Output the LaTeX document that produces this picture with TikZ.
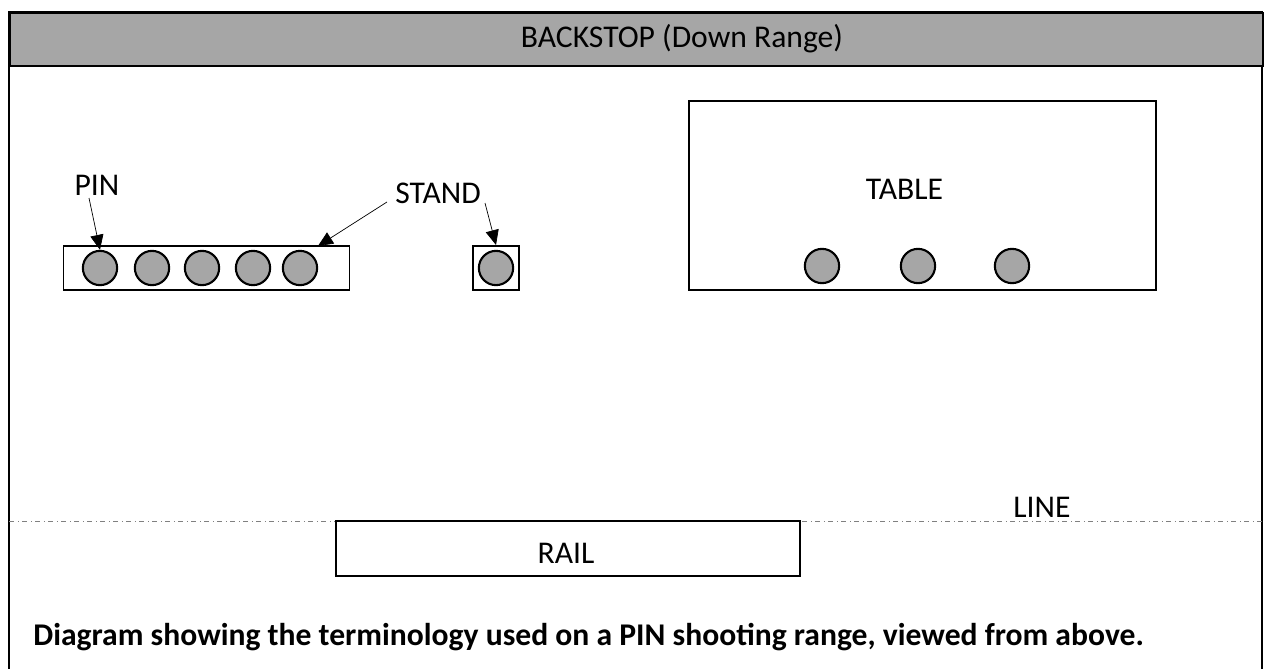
\documentclass[tikz,border=0pt]{standalone}
\usepackage{fontspec}
\setmainfont{Carlito}
\usetikzlibrary{arrows.meta,positioning}
\definecolor{pingray}{HTML}{A6A6A6}
\tikzstyle{box}=[rectangle,draw,line width=1.1pt,inner sep=0pt]
\tikzstyle{pinball}=[circle,draw,fill=pingray,line width=1.2pt,minimum size=19.5pt,inner sep=0pt]
\tikzstyle{lbl}=[font=\fontsize{18}{21}\selectfont,inner sep=0pt,anchor=base]
\tikzstyle{pointer}=[-{Triangle[length=8.5pt,width=7.5pt]},thin]
\tikzstyle{firingline}=[dash dot,gray,thin]

\begin{document}
\begin{tikzpicture}[x=0.02cm,y=-0.02cm]
\useasboundingbox (0,0) rectangle (1268,669);

% range frame and backstop
\draw [line width=1.1pt] (9,700) -- (9,12) -- (1262,12) -- (1262,700) ;
\node (backstop) [box,fill=pingray,minimum width=25.06cm,minimum height=1.06cm,anchor=north west] at (9,12) {} ;
\node (backlbl) [lbl] at (682,48) {BACKSTOP (Down Range)} ;

% stands
\node (stand1) [box,minimum width=5.72cm,minimum height=0.88cm] at (206.5,268) {} ;
\node (stand2) [box,minimum width=0.92cm,minimum height=0.88cm] at (496,268) {} ;
\foreach \x [count=\i] in {100,152,202,253,300}
  \node (pin\i) [pinball] at (\x,268) {} ;
\node (pin6) [pinball] at (496,268) {} ;

\node (pinlbl) [lbl] at (97,195) {PIN} ;
\node (standlbl) [lbl] at (438,203) {STAND} ;
\coordinate (p0) at (89,198) ;
\coordinate (s0) at (387,202) ;
\coordinate (s1) at (485,203) ;
\coordinate (s0end) at (318,246) ;
\draw [pointer] (p0) -- (pin1.north) ;
\draw [pointer] (s0) -- (s0end) ;
\draw [pointer] (s1) -- (stand2.north) ;

% table
\node (table) [box,minimum width=9.34cm,minimum height=3.78cm] at (922.5,195.5) {} ;
\node (tablelbl) [lbl] at (904.5,199) {TABLE} ;
\foreach \x [count=\i] in {822,918,1012}
  \node (tpin\i) [pinball] at (\x,266) {} ;

% firing line and rail
\draw [firingline] (9,521) -- (1262,521) ;
\node (linelbl) [lbl] at (1042,517) {LINE} ;
\node (rail) [box,fill=white,minimum width=9.28cm,minimum height=1.1cm] at (568,548.5) {} ;
\node (raillbl) [lbl] at (566,563) {RAIL} ;

\node (caption) [anchor=base west,font=\fontsize{18}{21}\selectfont\bfseries,inner sep=0pt] at (33,645) {Diagram showing the terminology used on a PIN shooting range, viewed from above.} ;

\end{tikzpicture}
\end{document}
